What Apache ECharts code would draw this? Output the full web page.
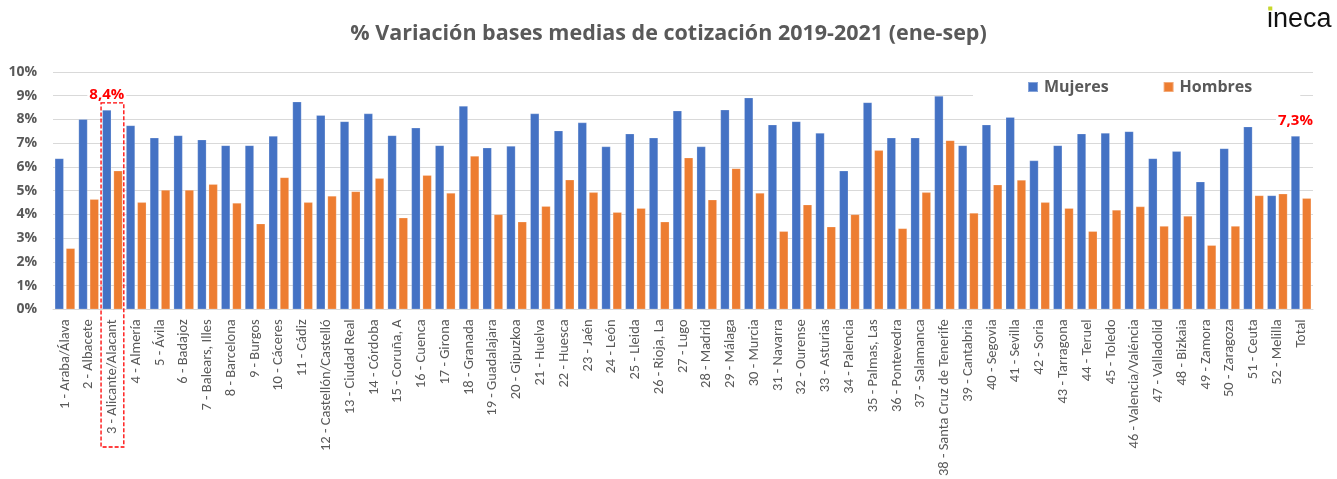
<!DOCTYPE html>
<html>
<head>
<meta charset="utf-8">
<script src="https://cdn.jsdelivr.net/npm/echarts@6/dist/echarts.min.js"></script>
<style>
  html, body { margin: 0; padding: 0; background: #fff; }
  #chart { width: 1337px; height: 479px; }
</style>
</head>
<body>
<div id="chart"></div>
<script>
// Provincias (eje X)
const provincias = [
  '1 - Araba/Álava', '2 - Albacete', '3 - Alicante/Alacant', '4 - Almería', '5 - Ávila',
  '6 - Badajoz', '7 - Balears, Illes', '8 - Barcelona', '9 - Burgos', '10 - Cáceres',
  '11 - Cádiz', '12 - Castellón/Castelló', '13 - Ciudad Real', '14 - Córdoba', '15 - Coruña, A',
  '16 - Cuenca', '17 - Girona', '18 - Granada', '19 - Guadalajara', '20 - Gipuzkoa',
  '21 - Huelva', '22 - Huesca', '23 - Jaén', '24 - León', '25 - Lleida',
  '26 - Rioja, La', '27 - Lugo', '28 - Madrid', '29 - Málaga', '30 - Murcia',
  '31 - Navarra', '32 - Ourense', '33 - Asturias', '34 - Palencia', '35 - Palmas, Las',
  '36 - Pontevedra', '37 - Salamanca', '38 - Santa Cruz de Tenerife', '39 - Cantabria', '40 - Segovia',
  '41 - Sevilla', '42 - Soria', '43 - Tarragona', '44 - Teruel', '45 - Toledo',
  '46 - Valencia/Valéncia', '47 - Valladolid', '48 - Bizkaia', '49 - Zamora', '50 - Zaragoza',
  '51 - Ceuta', '52 - Melilla', 'Total'
];

// % variación Mujeres
const mujeres = [
  6.36, 8.01, 8.4, 7.75, 7.23, 7.33, 7.15, 6.91, 6.91, 7.30,
  8.75, 8.18, 7.92, 8.25, 7.33, 7.65, 6.91, 8.57, 6.81, 6.88,
  8.25, 7.53, 7.87, 6.86, 7.40, 7.23, 8.37, 6.86, 8.41, 8.92,
  7.78, 7.92, 7.43, 5.84, 8.72, 7.23, 7.23, 8.99, 6.91, 7.78,
  8.10, 6.27, 6.91, 7.40, 7.43, 7.50, 6.36, 6.66, 5.38, 6.78,
  7.70, 4.80, 7.3
];

// % variación Hombres
const hombres = [
  2.57, 4.64, 5.84, 4.51, 5.03, 5.03, 5.27, 4.48, 3.61, 5.56,
  4.51, 4.78, 4.97, 5.52, 3.86, 5.65, 4.90, 6.46, 4.00, 3.69,
  4.35, 5.46, 4.93, 4.09, 4.26, 3.69, 6.39, 4.62, 5.94, 4.90,
  3.29, 4.41, 3.48, 4.00, 6.70, 3.41, 4.93, 7.12, 4.06, 5.25,
  5.45, 4.51, 4.26, 3.29, 4.19, 4.33, 3.51, 3.93, 2.70, 3.51,
  4.80, 4.87, 4.68
];

// Marcas de eje Y
const yTicks = [0, 1, 2, 3, 4, 5, 6, 7, 8, 9, 10];

// Barras destacadas con etiqueta
const destacadas = ['3 - Alicante/Alacant', 'Total'];

const GRAY = '#595959';
const RED = '#ff0000';
const fmt = v => v.toFixed(1).replace('.', ',') + '%';

const mujeresData = mujeres.map((v, i) => {
  const cat = provincias[i];
  if (!destacadas.includes(cat)) return v;
  const isAlicante = cat === destacadas[0];
  return {
    value: v,
    label: {
      show: true,
      position: 'top',
      distance: isAlicante ? 8 : 8,
      formatter: p => fmt(p.value),
      color: RED,
      fontWeight: 'bold',
      fontSize: 15,
      fontFamily: 'Open Sans, sans-serif',
      backgroundColor: '#fff',
      padding: [1, 2, 0, 2]
    }
  };
});

const chart = echarts.init(document.getElementById('chart'), null, { renderer: 'canvas' });

const option = {
  animation: false,
  backgroundColor: '#fff',
  title: {
    text: '% Variación bases medias de cotización 2019-2021 (ene-sep)',
    left: 'center',
    top: 18,
    textStyle: {
      color: GRAY,
      fontSize: 21.5,
      fontWeight: 'bold',
      fontFamily: 'Open Sans, sans-serif'
    }
  },
  legend: {
    left: 973,
    top: 76,
    padding: [3, 48, 3, 54],
    backgroundColor: '#fff',
    itemWidth: 10,
    itemHeight: 10,
    itemGap: 54,
    icon: 'rect',
    textStyle: {
      color: GRAY,
      fontSize: 16,
      fontWeight: 'bold',
      fontFamily: 'Open Sans, sans-serif',
      padding: [0, 0, 0, 1]
    },
    data: ['Mujeres', 'Hombres']
  },
  grid: {
    left: 53,
    right: 24,
    top: 72,
    bottom: 169,
    containLabel: false
  },
  xAxis: {
    type: 'category',
    data: provincias,
    axisTick: { show: false },
    axisLine: { lineStyle: { color: '#d9d9d9', width: 1 } },
    axisLabel: {
      interval: 0,
      rotate: 90,
      margin: 10,
      color: GRAY,
      fontSize: 14.5,
      fontFamily: 'Carlito, "Liberation Sans Narrow", "Open Sans", sans-serif'
    }
  },
  yAxis: {
    type: 'value',
    min: yTicks[0],
    max: yTicks[yTicks.length - 1],
    interval: 1,
    axisLine: { show: false },
    axisTick: { show: false },
    splitLine: { lineStyle: { color: '#d9d9d9', width: 1 } },
    axisLabel: {
      margin: 16,
      color: GRAY,
      fontSize: 14,
      fontWeight: 'bold',
      fontFamily: 'Open Sans, sans-serif',
      formatter: '{value}%'
    }
  },
  series: [
    {
      name: 'Mujeres',
      type: 'bar',
      data: mujeresData,
      barWidth: 9,
      barGap: '25%',
      itemStyle: { color: '#4472C4', borderColor: 'rgba(255,255,255,0.35)', borderWidth: 0.6 }
    },
    {
      name: 'Hombres',
      type: 'bar',
      data: hombres,
      barWidth: 9,
      itemStyle: { color: '#ED7D31', borderColor: 'rgba(255,255,255,0.35)', borderWidth: 0.6 }
    }
  ]
};

chart.setOption(option);

// Recuadro discontinuo alrededor de Alicante y logotipo
function drawExtras() {
  const idx = provincias.indexOf(destacadas[0]);
  const cx = chart.convertToPixel({ xAxisIndex: 0 }, provincias[idx]);
  const cx2 = chart.convertToPixel({ xAxisIndex: 0 }, provincias[idx + 1]);
  const band = cx2 - cx;
  const yTop = chart.convertToPixel({ yAxisIndex: 0 }, mujeres[idx]) - 7;
  const yBottom = 447;
  chart.setOption({
    graphic: [
      {
        type: 'rect',
        shape: { x: cx - band / 2 + 0.5, y: yTop, width: band - 1, height: yBottom - yTop },
        style: { fill: 'none', stroke: RED, lineWidth: 1.3, lineDash: [4, 2] },
        z: 10
      },
      {
        type: 'text',
        x: 1267,
        y: 33,
        style: {
          text: 'ineca',
          fill: '#111',
          font: '27px "Liberation Sans", Arial, sans-serif',
          verticalAlign: 'bottom'
        },
        z: 10
      },
      {
        type: 'rect',
        shape: { x: 1268.3, y: 6.5, width: 4, height: 4 },
        style: { fill: '#c8d82a' },
        z: 11
      }
    ]
  });
}
drawExtras();
</script>
</body>
</html>
